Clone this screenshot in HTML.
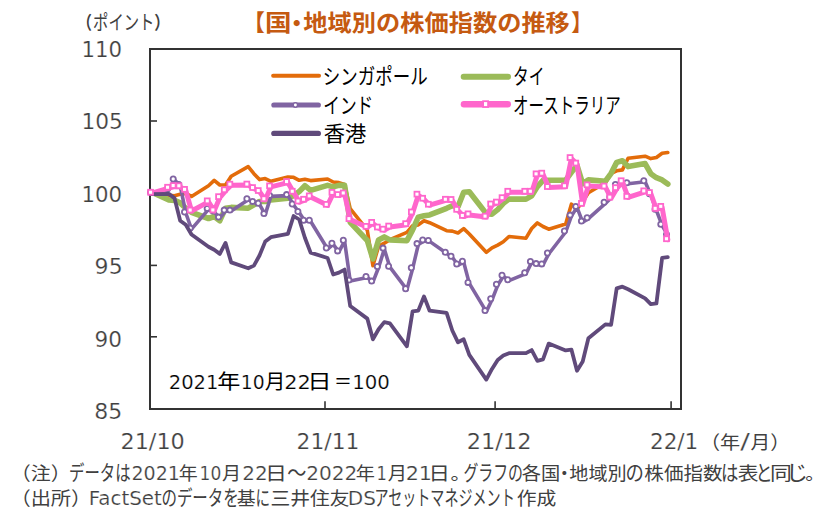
<!DOCTYPE html>
<html lang="ja"><head><meta charset="utf-8"><title>国・地域別の株価指数の推移</title>
<style>html,body{margin:0;padding:0;background:#fff;}svg{display:block;}text{white-space:pre;}</style></head><body>
<svg width="824" height="511" viewBox="0 0 824 511">
<rect x="0" y="0" width="824" height="511" fill="#ffffff"/>
<g id="axes" stroke="#333333" fill="none">
<rect x="150" y="49" width="531" height="360" stroke-width="2"/>
<line x1="150" x2="157" y1="121.0" y2="121.0" stroke-width="1.6"/>
<line x1="150" x2="157" y1="193.0" y2="193.0" stroke-width="1.6"/>
<line x1="150" x2="157" y1="265.4" y2="265.4" stroke-width="1.6"/>
<line x1="150" x2="157" y1="336.8" y2="336.8" stroke-width="1.6"/>
<line x1="325.0" x2="325.0" y1="401.3" y2="409" stroke-width="1.6"/>
<line x1="495.1" x2="495.1" y1="401.3" y2="409" stroke-width="1.6"/>
<line x1="671.1" x2="671.1" y1="401.3" y2="409" stroke-width="1.6"/>
</g>
<g id="series">
<polyline points="151.8,193.0 168.8,195.2 174.5,195.7 180.2,194.2 185.8,193.4 191.5,196.4 208.5,185.7 214.2,180.4 219.8,185.0 225.5,185.0 231.2,176.3 248.2,166.6 253.9,173.7 259.5,179.6 265.2,178.6 270.9,181.3 287.9,177.0 293.6,177.3 299.2,180.3 304.9,179.3 310.6,180.6 327.6,179.0 333.2,182.0 338.9,182.6 344.6,184.4 350.2,208.7 367.3,230.2 372.9,265.7 378.6,246.2 384.3,243.2 389.9,239.7 406.9,232.4 412.6,225.7 418.3,224.9 424.0,220.8 429.6,222.7 446.6,230.7 452.3,231.1 458.0,233.0 463.7,228.6 469.3,234.0 486.3,252.3 492.0,247.8 497.7,245.1 503.3,241.8 509.0,236.5 526.0,238.2 531.7,228.5 537.4,222.9 543.0,226.5 548.7,229.2 565.7,224.0 571.4,204.2 577.0,209.0 582.7,201.6 588.4,192.8 605.4,182.7 611.1,173.5 616.7,170.8 622.4,169.9 628.1,158.2 645.1,156.2 650.8,158.6 656.4,157.5 662.1,153.3 667.8,152.5" stroke="#E36C0A" stroke-width="3.6" fill="none" stroke-linejoin="round" stroke-linecap="round"/>
<polyline points="151.8,192.2 168.8,199.9 174.5,200.4 180.2,202.9 185.8,208.2 191.5,212.3 208.5,218.5 214.2,216.5 219.8,220.7 225.5,208.2 231.2,207.4 248.2,208.2 253.9,204.9 259.5,201.5 265.2,201.5 270.9,199.9 287.9,198.2 293.6,195.7 299.2,191.6 304.9,185.7 310.6,190.4 327.6,185.4 333.2,186.9 338.9,185.4 344.6,185.4 350.2,222.4 367.3,240.5 372.9,259.0 378.6,239.9 384.3,236.9 389.9,239.9 406.9,240.7 412.6,229.9 418.3,217.2 424.0,215.7 429.6,214.9 446.6,208.3 452.3,205.7 458.0,206.6 463.7,192.2 469.3,191.8 486.3,213.6 492.0,214.1 497.7,209.6 503.3,203.3 509.0,199.1 526.0,199.1 531.7,195.8 537.4,186.6 543.0,180.3 548.7,180.3 565.7,180.2 571.4,172.4 577.0,165.2 582.7,183.8 588.4,179.9 605.4,181.2 611.1,173.3 616.7,162.4 622.4,160.8 628.1,166.6 645.1,163.6 650.8,173.7 656.4,177.7 662.1,179.9 667.8,184.1" stroke="#9BBB59" stroke-width="5.6" fill="none" stroke-linejoin="round" stroke-linecap="round"/>
<polyline points="151.8,193.2 168.8,189.8 174.5,180.0 180.2,185.6 185.8,213.0 191.5,229.1 208.5,209.4 214.2,212.0 219.8,218.1 225.5,211.1 231.2,211.1 248.2,199.7 253.9,202.4 259.5,204.3 265.2,214.6 270.9,196.4 287.9,195.6 293.6,205.0 299.2,212.5 304.9,221.3 310.6,221.3 327.6,249.0 333.2,244.3 338.9,251.9 344.6,241.2 350.2,281.1 367.3,277.5 372.9,282.1 378.6,267.5 384.3,249.1 389.9,267.2 406.9,289.7 412.6,268.7 418.3,244.6 424.0,240.9 429.6,241.4 446.6,253.3 452.3,257.2 458.0,265.0 463.7,262.3 469.3,283.4 486.3,311.6 492.0,299.8 497.7,285.3 503.3,276.2 509.0,280.7 526.0,273.7 531.7,262.4 537.4,264.6 543.0,264.9 548.7,254.0 565.7,232.0 571.4,216.1 577.0,207.4 582.7,222.1 588.4,218.7 605.4,203.3 611.1,198.0 616.7,185.4 622.4,183.4 628.1,183.7 645.1,181.7 650.8,194.8 656.4,210.3 662.1,225.3 667.8,235.4" stroke="#8064A2" stroke-width="3.6" fill="none" stroke-linejoin="round" stroke-linecap="round"/>
<g fill="#ffffff" stroke="#8064A2" stroke-width="1.8">
<circle cx="150.5" cy="192.2" r="2.6"/>
<circle cx="167.5" cy="188.8" r="2.6"/>
<circle cx="173.2" cy="179.0" r="2.6"/>
<circle cx="178.8" cy="184.6" r="2.6"/>
<circle cx="184.5" cy="212.0" r="2.6"/>
<circle cx="190.2" cy="228.1" r="2.6"/>
<circle cx="207.2" cy="208.4" r="2.6"/>
<circle cx="212.9" cy="211.0" r="2.6"/>
<circle cx="218.5" cy="217.1" r="2.6"/>
<circle cx="224.2" cy="210.1" r="2.6"/>
<circle cx="229.9" cy="210.1" r="2.6"/>
<circle cx="246.9" cy="198.7" r="2.6"/>
<circle cx="252.6" cy="201.4" r="2.6"/>
<circle cx="258.2" cy="203.3" r="2.6"/>
<circle cx="263.9" cy="213.6" r="2.6"/>
<circle cx="269.6" cy="195.4" r="2.6"/>
<circle cx="286.6" cy="194.6" r="2.6"/>
<circle cx="292.2" cy="204.0" r="2.6"/>
<circle cx="297.9" cy="211.5" r="2.6"/>
<circle cx="303.6" cy="220.3" r="2.6"/>
<circle cx="309.3" cy="220.3" r="2.6"/>
<circle cx="326.3" cy="248.0" r="2.6"/>
<circle cx="331.9" cy="243.3" r="2.6"/>
<circle cx="337.6" cy="250.9" r="2.6"/>
<circle cx="343.3" cy="240.2" r="2.6"/>
<circle cx="348.9" cy="280.1" r="2.6"/>
<circle cx="366.0" cy="276.5" r="2.6"/>
<circle cx="371.6" cy="281.1" r="2.6"/>
<circle cx="377.3" cy="266.5" r="2.6"/>
<circle cx="383.0" cy="248.1" r="2.6"/>
<circle cx="388.6" cy="266.2" r="2.6"/>
<circle cx="405.6" cy="288.7" r="2.6"/>
<circle cx="411.3" cy="267.7" r="2.6"/>
<circle cx="417.0" cy="243.6" r="2.6"/>
<circle cx="422.7" cy="239.9" r="2.6"/>
<circle cx="428.3" cy="240.4" r="2.6"/>
<circle cx="445.3" cy="252.3" r="2.6"/>
<circle cx="451.0" cy="256.2" r="2.6"/>
<circle cx="456.7" cy="264.0" r="2.6"/>
<circle cx="462.4" cy="261.3" r="2.6"/>
<circle cx="468.0" cy="282.4" r="2.6"/>
<circle cx="485.0" cy="310.6" r="2.6"/>
<circle cx="490.7" cy="298.8" r="2.6"/>
<circle cx="496.4" cy="284.3" r="2.6"/>
<circle cx="502.0" cy="275.2" r="2.6"/>
<circle cx="507.7" cy="279.7" r="2.6"/>
<circle cx="524.7" cy="272.7" r="2.6"/>
<circle cx="530.4" cy="261.4" r="2.6"/>
<circle cx="536.1" cy="263.6" r="2.6"/>
<circle cx="541.7" cy="263.9" r="2.6"/>
<circle cx="547.4" cy="253.0" r="2.6"/>
<circle cx="564.4" cy="231.0" r="2.6"/>
<circle cx="570.1" cy="215.1" r="2.6"/>
<circle cx="575.8" cy="206.4" r="2.6"/>
<circle cx="581.4" cy="221.1" r="2.6"/>
<circle cx="587.1" cy="217.7" r="2.6"/>
<circle cx="604.1" cy="202.3" r="2.6"/>
<circle cx="609.8" cy="197.0" r="2.6"/>
<circle cx="615.4" cy="184.4" r="2.6"/>
<circle cx="621.1" cy="182.4" r="2.6"/>
<circle cx="626.8" cy="182.7" r="2.6"/>
<circle cx="643.8" cy="180.7" r="2.6"/>
<circle cx="649.5" cy="193.8" r="2.6"/>
<circle cx="655.1" cy="209.3" r="2.6"/>
<circle cx="660.8" cy="224.3" r="2.6"/>
<circle cx="666.5" cy="234.4" r="2.6"/>
</g>
<polyline points="151.8,193.2 168.8,188.2 174.5,186.6 180.2,186.8 185.8,190.3 191.5,211.0 208.5,201.9 214.2,210.9 219.8,197.6 225.5,190.8 231.2,185.2 248.2,185.1 253.9,188.6 259.5,191.6 265.2,199.7 270.9,186.9 287.9,182.6 293.6,192.2 299.2,202.1 304.9,200.2 310.6,196.9 327.6,205.3 333.2,193.4 338.9,195.5 344.6,194.0 350.2,219.6 367.3,227.3 372.9,223.4 378.6,228.1 384.3,230.2 389.9,227.0 406.9,224.7 412.6,212.9 418.3,195.2 424.0,199.2 429.6,205.2 446.6,200.2 452.3,200.4 458.0,210.4 463.7,216.5 469.3,214.9 486.3,217.1 492.0,204.9 497.7,203.0 503.3,198.6 509.0,192.3 526.0,192.3 531.7,192.3 537.4,174.9 543.0,174.2 548.7,187.5 565.7,186.7 571.4,158.6 577.0,164.0 582.7,204.3 588.4,185.9 605.4,187.1 611.1,198.1 616.7,188.7 622.4,181.8 628.1,197.4 645.1,191.9 650.8,193.5 656.4,209.3 662.1,207.4 667.8,239.7" stroke="#FF66CC" stroke-width="5.0" fill="none" stroke-linejoin="round" stroke-linecap="round"/>
<polyline points="151.8,194.2 168.8,193.9 174.5,198.1 180.2,220.7 185.8,224.7 191.5,234.5 208.5,246.8 214.2,249.8 219.8,253.9 225.5,242.9 231.2,262.4 248.2,268.3 253.9,265.6 259.5,255.5 265.2,241.6 270.9,237.2 287.9,233.8 293.6,216.0 299.2,219.5 304.9,237.7 310.6,252.6 327.6,258.0 333.2,274.5 338.9,272.6 344.6,269.6 350.2,306.0 367.3,318.6 372.9,339.3 378.6,329.2 384.3,322.1 389.9,323.3 406.9,346.3 412.6,311.3 418.3,310.6 424.0,296.4 429.6,310.7 446.6,312.9 452.3,330.5 458.0,342.3 463.7,339.3 469.3,354.9 486.3,379.6 492.0,368.9 497.7,359.9 503.3,355.5 509.0,353.2 526.0,353.2 531.7,350.1 537.4,360.8 543.0,359.4 548.7,343.6 565.7,350.4 571.4,349.6 577.0,370.7 582.7,361.5 588.4,338.3 605.4,324.4 611.1,324.8 616.7,288.3 622.4,286.7 628.1,289.3 645.1,298.4 650.8,304.2 656.4,303.4 662.1,257.9 667.8,257.2" stroke="#604A7B" stroke-width="3.8" fill="none" stroke-linejoin="round" stroke-linecap="round"/>
<g fill="#ffffff" stroke="#FF66CC" stroke-width="1.8">
<rect x="148.1" y="189.8" width="4.9" height="4.9"/>
<rect x="165.1" y="184.8" width="4.9" height="4.9"/>
<rect x="170.7" y="183.1" width="4.9" height="4.9"/>
<rect x="176.4" y="183.3" width="4.9" height="4.9"/>
<rect x="182.1" y="186.9" width="4.9" height="4.9"/>
<rect x="187.7" y="207.6" width="4.9" height="4.9"/>
<rect x="204.8" y="198.4" width="4.9" height="4.9"/>
<rect x="210.4" y="207.5" width="4.9" height="4.9"/>
<rect x="216.1" y="194.2" width="4.9" height="4.9"/>
<rect x="221.8" y="187.3" width="4.9" height="4.9"/>
<rect x="227.4" y="181.7" width="4.9" height="4.9"/>
<rect x="244.4" y="181.6" width="4.9" height="4.9"/>
<rect x="250.1" y="185.1" width="4.9" height="4.9"/>
<rect x="255.8" y="188.1" width="4.9" height="4.9"/>
<rect x="261.4" y="196.3" width="4.9" height="4.9"/>
<rect x="267.1" y="183.4" width="4.9" height="4.9"/>
<rect x="284.1" y="179.1" width="4.9" height="4.9"/>
<rect x="289.8" y="188.8" width="4.9" height="4.9"/>
<rect x="295.5" y="198.6" width="4.9" height="4.9"/>
<rect x="301.1" y="196.8" width="4.9" height="4.9"/>
<rect x="306.8" y="193.4" width="4.9" height="4.9"/>
<rect x="323.8" y="201.9" width="4.9" height="4.9"/>
<rect x="329.5" y="189.9" width="4.9" height="4.9"/>
<rect x="335.2" y="192.1" width="4.9" height="4.9"/>
<rect x="340.8" y="190.5" width="4.9" height="4.9"/>
<rect x="346.5" y="216.2" width="4.9" height="4.9"/>
<rect x="363.5" y="223.9" width="4.9" height="4.9"/>
<rect x="369.2" y="219.9" width="4.9" height="4.9"/>
<rect x="374.9" y="224.6" width="4.9" height="4.9"/>
<rect x="380.5" y="226.7" width="4.9" height="4.9"/>
<rect x="386.2" y="223.6" width="4.9" height="4.9"/>
<rect x="403.2" y="221.2" width="4.9" height="4.9"/>
<rect x="408.9" y="209.5" width="4.9" height="4.9"/>
<rect x="414.5" y="191.7" width="4.9" height="4.9"/>
<rect x="420.2" y="195.8" width="4.9" height="4.9"/>
<rect x="425.9" y="201.8" width="4.9" height="4.9"/>
<rect x="442.9" y="196.8" width="4.9" height="4.9"/>
<rect x="448.6" y="197.0" width="4.9" height="4.9"/>
<rect x="454.2" y="206.9" width="4.9" height="4.9"/>
<rect x="459.9" y="213.0" width="4.9" height="4.9"/>
<rect x="465.6" y="211.4" width="4.9" height="4.9"/>
<rect x="482.6" y="213.7" width="4.9" height="4.9"/>
<rect x="488.2" y="201.5" width="4.9" height="4.9"/>
<rect x="493.9" y="199.6" width="4.9" height="4.9"/>
<rect x="499.6" y="195.2" width="4.9" height="4.9"/>
<rect x="505.3" y="188.8" width="4.9" height="4.9"/>
<rect x="522.3" y="188.8" width="4.9" height="4.9"/>
<rect x="527.9" y="188.8" width="4.9" height="4.9"/>
<rect x="533.6" y="171.4" width="4.9" height="4.9"/>
<rect x="539.3" y="170.7" width="4.9" height="4.9"/>
<rect x="544.9" y="184.1" width="4.9" height="4.9"/>
<rect x="562.0" y="183.3" width="4.9" height="4.9"/>
<rect x="567.6" y="155.1" width="4.9" height="4.9"/>
<rect x="573.3" y="160.6" width="4.9" height="4.9"/>
<rect x="579.0" y="200.9" width="4.9" height="4.9"/>
<rect x="584.6" y="182.4" width="4.9" height="4.9"/>
<rect x="601.6" y="183.6" width="4.9" height="4.9"/>
<rect x="607.3" y="194.7" width="4.9" height="4.9"/>
<rect x="613.0" y="185.2" width="4.9" height="4.9"/>
<rect x="618.7" y="178.3" width="4.9" height="4.9"/>
<rect x="624.3" y="193.9" width="4.9" height="4.9"/>
<rect x="641.3" y="188.4" width="4.9" height="4.9"/>
<rect x="647.0" y="190.1" width="4.9" height="4.9"/>
<rect x="652.7" y="205.9" width="4.9" height="4.9"/>
<rect x="658.3" y="203.9" width="4.9" height="4.9"/>
<rect x="664.0" y="236.3" width="4.9" height="4.9"/>
</g>
</g>
<g id="legend" fill="none" stroke-linecap="round">
<line x1="273.1" x2="319.1" y1="75.8" y2="75.8" stroke="#E36C0A" stroke-width="3.9"/>
<line x1="463.7" x2="508.0" y1="76.8" y2="76.8" stroke="#9BBB59" stroke-width="6.0"/>
<line x1="273.8" x2="318.4" y1="105.0" y2="105.0" stroke="#8064A2" stroke-width="5.1"/>
<circle cx="295.4" cy="105.0" r="2.2" fill="#fff" stroke="#8064A2" stroke-width="1.5"/>
<line x1="463.9" x2="507.8" y1="104.2" y2="104.2" stroke="#FF66CC" stroke-width="6.4"/>
<rect x="483.1" y="101.2" width="5.0" height="5.8" fill="#fff" stroke="#FF66CC" stroke-width="1.8"/>
<line x1="273.9" x2="318.3" y1="133.4" y2="133.4" stroke="#604A7B" stroke-width="5.4"/>
</g>
<g id="labels">
<text x="77.15" y="29.00" font-size="18.00" fill="#404040" font-family='"Liberation Sans","Noto Sans CJK JP",sans-serif' font-weight="bold" textLength="14.64" lengthAdjust="spacingAndGlyphs">（</text>
<text x="93.08" y="30.15" font-size="20.00" fill="#404040" font-family='"Liberation Sans","Noto Sans CJK JP",sans-serif' textLength="61.35" lengthAdjust="spacingAndGlyphs">ポイント</text>
<text x="154.33" y="29.12" font-size="18.00" fill="#404040" font-family='"Liberation Sans","Noto Sans CJK JP",sans-serif' font-weight="bold" textLength="15.38" lengthAdjust="spacingAndGlyphs">）</text>
<text x="81.50" y="56.90" font-size="21.33" fill="#404040" font-family='"DejaVu Sans","Liberation Sans","Noto Sans CJK JP",sans-serif' textLength="40.59" lengthAdjust="spacingAndGlyphs" stroke="#ffffff" stroke-width="0.22">110</text>
<text x="81.50" y="129.30" font-size="21.33" fill="#404040" font-family='"DejaVu Sans","Liberation Sans","Noto Sans CJK JP",sans-serif' textLength="41.41" lengthAdjust="spacingAndGlyphs" stroke="#ffffff" stroke-width="0.22">105</text>
<text x="81.50" y="201.70" font-size="21.33" fill="#404040" font-family='"DejaVu Sans","Liberation Sans","Noto Sans CJK JP",sans-serif' textLength="40.59" lengthAdjust="spacingAndGlyphs" stroke="#ffffff" stroke-width="0.22">100</text>
<text x="94.63" y="274.10" font-size="21.33" fill="#404040" font-family='"DejaVu Sans","Liberation Sans","Noto Sans CJK JP",sans-serif' textLength="28.02" lengthAdjust="spacingAndGlyphs" stroke="#ffffff" stroke-width="0.22">95</text>
<text x="94.53" y="346.50" font-size="21.33" fill="#404040" font-family='"DejaVu Sans","Liberation Sans","Noto Sans CJK JP",sans-serif' textLength="27.41" lengthAdjust="spacingAndGlyphs" stroke="#ffffff" stroke-width="0.22">90</text>
<text x="94.28" y="418.90" font-size="21.33" fill="#404040" font-family='"DejaVu Sans","Liberation Sans","Noto Sans CJK JP",sans-serif' textLength="28.02" lengthAdjust="spacingAndGlyphs" stroke="#ffffff" stroke-width="0.22">85</text>
<text x="243.02" y="30.70" font-size="23.00" fill="#C55A11" font-family='"Liberation Sans","Noto Sans CJK JP",sans-serif' font-weight="bold" textLength="21.81" lengthAdjust="spacingAndGlyphs">【</text>
<text x="265.10" y="30.83" font-size="23.00" fill="#C55A11" font-family='"Liberation Sans","Noto Sans CJK JP",sans-serif' font-weight="bold" textLength="26.53" lengthAdjust="spacingAndGlyphs">国</text>
<text x="284.75" y="31.68" font-size="24.00" fill="#C55A11" font-family='"Liberation Sans","Noto Sans CJK JP",sans-serif' font-weight="bold">・</text>
<text x="303.38" y="30.87" font-size="23.00" fill="#C55A11" font-family='"Liberation Sans","Noto Sans CJK JP",sans-serif' font-weight="bold" textLength="266.46" lengthAdjust="spacingAndGlyphs">地域別の株価指数の推移</text>
<text x="571.35" y="30.70" font-size="23.00" fill="#C55A11" font-family='"Liberation Sans","Noto Sans CJK JP",sans-serif' font-weight="bold" textLength="21.16" lengthAdjust="spacingAndGlyphs">】</text>
<text x="322.82" y="83.98" font-size="21.50" fill="#000000" font-family='"Liberation Sans","Noto Sans CJK JP",sans-serif' textLength="104.92" lengthAdjust="spacingAndGlyphs">シンガポール</text>
<text x="513.02" y="84.13" font-size="21.50" fill="#000000" font-family='"Liberation Sans","Noto Sans CJK JP",sans-serif' textLength="31.49" lengthAdjust="spacingAndGlyphs">タイ</text>
<text x="323.20" y="112.83" font-size="21.50" fill="#000000" font-family='"Liberation Sans","Noto Sans CJK JP",sans-serif' textLength="50.07" lengthAdjust="spacingAndGlyphs">インド</text>
<text x="512.90" y="113.10" font-size="21.50" fill="#000000" font-family='"Liberation Sans","Noto Sans CJK JP",sans-serif' textLength="107.76" lengthAdjust="spacingAndGlyphs">オーストラリア</text>
<text x="323.83" y="141.45" font-size="21.00" fill="#000000" font-family='"Liberation Sans","Noto Sans CJK JP",sans-serif' textLength="42.59" lengthAdjust="spacingAndGlyphs">香港</text>
<text x="168.70" y="388.60" font-size="20.00" fill="#000000" font-family='"DejaVu Sans","Liberation Sans","Noto Sans CJK JP",sans-serif' textLength="49.83" lengthAdjust="spacingAndGlyphs" stroke="#ffffff" stroke-width="0.22">2021</text>
<text x="217.30" y="388.60" font-size="20.00" fill="#000000" font-family='"Liberation Sans","Noto Sans CJK JP",sans-serif' textLength="23.10" lengthAdjust="spacingAndGlyphs">年</text>
<text x="240.75" y="388.60" font-size="20.00" fill="#000000" font-family='"DejaVu Sans","Liberation Sans","Noto Sans CJK JP",sans-serif' textLength="23.90" lengthAdjust="spacingAndGlyphs" stroke="#ffffff" stroke-width="0.22">10</text>
<text x="264.78" y="388.60" font-size="20.00" fill="#000000" font-family='"Liberation Sans","Noto Sans CJK JP",sans-serif' textLength="20.59" lengthAdjust="spacingAndGlyphs">月</text>
<text x="284.18" y="388.60" font-size="20.00" fill="#000000" font-family='"DejaVu Sans","Liberation Sans","Noto Sans CJK JP",sans-serif' textLength="26.60" lengthAdjust="spacingAndGlyphs" stroke="#ffffff" stroke-width="0.22">22</text>
<text x="307.25" y="388.60" font-size="20.00" fill="#000000" font-family='"Liberation Sans","Noto Sans CJK JP",sans-serif' textLength="24.38" lengthAdjust="spacingAndGlyphs">日</text>
<text x="333.95" y="388.60" font-size="20.00" fill="#000000" font-family='"Liberation Sans","Noto Sans CJK JP",sans-serif' textLength="17.93" lengthAdjust="spacingAndGlyphs">＝</text>
<text x="352.22" y="388.60" font-size="20.00" fill="#000000" font-family='"DejaVu Sans","Liberation Sans","Noto Sans CJK JP",sans-serif' textLength="37.71" lengthAdjust="spacingAndGlyphs" stroke="#ffffff" stroke-width="0.22">100</text>
<text x="120.48" y="448.80" font-size="21.33" fill="#404040" font-family='"DejaVu Sans","Liberation Sans","Noto Sans CJK JP",sans-serif' textLength="64.33" lengthAdjust="spacingAndGlyphs" stroke="#ffffff" stroke-width="0.22">21/10</text>
<text x="296.55" y="448.80" font-size="21.33" fill="#404040" font-family='"DejaVu Sans","Liberation Sans","Noto Sans CJK JP",sans-serif' textLength="62.83" lengthAdjust="spacingAndGlyphs" stroke="#ffffff" stroke-width="0.22">21/11</text>
<text x="466.65" y="448.80" font-size="21.33" fill="#404040" font-family='"DejaVu Sans","Liberation Sans","Noto Sans CJK JP",sans-serif' textLength="64.87" lengthAdjust="spacingAndGlyphs" stroke="#ffffff" stroke-width="0.22">21/12</text>
<text x="649.95" y="448.80" font-size="21.33" fill="#404040" font-family='"DejaVu Sans","Liberation Sans","Noto Sans CJK JP",sans-serif' textLength="48.41" lengthAdjust="spacingAndGlyphs" stroke="#ffffff" stroke-width="0.22">22/1</text>
<text x="699.92" y="449.20" font-size="18.67" fill="#404040" font-family='"Liberation Sans","Noto Sans CJK JP",sans-serif' textLength="40.25" lengthAdjust="spacingAndGlyphs">（年</text>
<text x="740.15" y="449.40" font-size="22.00" fill="#404040" font-family='"DejaVu Sans","Liberation Sans","Noto Sans CJK JP",sans-serif' textLength="9.64" lengthAdjust="spacingAndGlyphs" stroke="#ffffff" stroke-width="0.22">/</text>
<text x="750.48" y="449.07" font-size="18.67" fill="#404040" font-family='"Liberation Sans","Noto Sans CJK JP",sans-serif' textLength="39.37" lengthAdjust="spacingAndGlyphs">月）</text>
<text x="10.65" y="480.00" font-size="18.67" fill="#404040" font-family='"Liberation Sans","Noto Sans CJK JP",sans-serif' textLength="59.99" lengthAdjust="spacingAndGlyphs">（注）</text>
<text x="69.05" y="480.00" font-size="21.00" fill="#404040" font-family='"Liberation Sans","Noto Sans CJK JP",sans-serif' textLength="61.57" lengthAdjust="spacingAndGlyphs">データは</text>
<text x="131.43" y="480.00" font-size="20.00" fill="#404040" font-family='"DejaVu Sans","Liberation Sans","Noto Sans CJK JP",sans-serif' textLength="48.50" lengthAdjust="spacingAndGlyphs" stroke="#ffffff" stroke-width="0.22">2021</text>
<text x="178.65" y="480.00" font-size="18.67" fill="#404040" font-family='"Liberation Sans","Noto Sans CJK JP",sans-serif' textLength="18.95" lengthAdjust="spacingAndGlyphs">年</text>
<text x="199.62" y="480.00" font-size="20.00" fill="#404040" font-family='"DejaVu Sans","Liberation Sans","Noto Sans CJK JP",sans-serif' textLength="21.73" lengthAdjust="spacingAndGlyphs" stroke="#ffffff" stroke-width="0.22">10</text>
<text x="222.07" y="480.00" font-size="18.67" fill="#404040" font-family='"Liberation Sans","Noto Sans CJK JP",sans-serif' textLength="19.02" lengthAdjust="spacingAndGlyphs">月</text>
<text x="242.17" y="480.00" font-size="20.00" fill="#404040" font-family='"DejaVu Sans","Liberation Sans","Noto Sans CJK JP",sans-serif' textLength="25.45" lengthAdjust="spacingAndGlyphs" stroke="#ffffff" stroke-width="0.22">22</text>
<text x="265.00" y="480.00" font-size="18.67" fill="#404040" font-family='"Liberation Sans","Noto Sans CJK JP",sans-serif' textLength="21.98" lengthAdjust="spacingAndGlyphs">日</text>
<text x="287.30" y="480.00" font-size="21.00" fill="#404040" font-family='"Liberation Sans","Noto Sans CJK JP",sans-serif' textLength="19.14" lengthAdjust="spacingAndGlyphs">～</text>
<text x="306.15" y="480.00" font-size="20.00" fill="#404040" font-family='"DejaVu Sans","Liberation Sans","Noto Sans CJK JP",sans-serif' textLength="51.17" lengthAdjust="spacingAndGlyphs" stroke="#ffffff" stroke-width="0.22">2022</text>
<text x="355.82" y="480.00" font-size="18.67" fill="#404040" font-family='"Liberation Sans","Noto Sans CJK JP",sans-serif' textLength="19.14" lengthAdjust="spacingAndGlyphs">年</text>
<text x="376.43" y="480.00" font-size="20.00" fill="#404040" font-family='"DejaVu Sans","Liberation Sans","Noto Sans CJK JP",sans-serif' textLength="10.36" lengthAdjust="spacingAndGlyphs" stroke="#ffffff" stroke-width="0.22">1</text>
<text x="387.68" y="480.00" font-size="18.67" fill="#404040" font-family='"Liberation Sans","Noto Sans CJK JP",sans-serif' textLength="19.19" lengthAdjust="spacingAndGlyphs">月</text>
<text x="405.68" y="480.00" font-size="20.00" fill="#404040" font-family='"DejaVu Sans","Liberation Sans","Noto Sans CJK JP",sans-serif' textLength="26.37" lengthAdjust="spacingAndGlyphs" stroke="#ffffff" stroke-width="0.22">21</text>
<text x="428.55" y="480.00" font-size="18.67" fill="#404040" font-family='"Liberation Sans","Noto Sans CJK JP",sans-serif' textLength="21.42" lengthAdjust="spacingAndGlyphs">日</text>
<text x="450.55" y="480.00" font-size="18.67" fill="#404040" font-family='"Liberation Sans","Noto Sans CJK JP",sans-serif' textLength="20.26" lengthAdjust="spacingAndGlyphs">。</text>
<text x="463.42" y="480.00" font-size="21.00" fill="#404040" font-family='"Liberation Sans","Noto Sans CJK JP",sans-serif' textLength="59.54" lengthAdjust="spacingAndGlyphs">グラフの</text>
<text x="521.87" y="480.00" font-size="18.67" fill="#404040" font-family='"Liberation Sans","Noto Sans CJK JP",sans-serif' textLength="38.49" lengthAdjust="spacingAndGlyphs">各国</text>
<text x="555.05" y="480.00" font-size="18.67" fill="#404040" font-family='"Liberation Sans","Noto Sans CJK JP",sans-serif'>・</text>
<text x="569.38" y="480.00" font-size="18.67" fill="#404040" font-family='"Liberation Sans","Noto Sans CJK JP",sans-serif' textLength="57.35" lengthAdjust="spacingAndGlyphs">地域別</text>
<text x="625.38" y="480.00" font-size="21.00" fill="#404040" font-family='"Liberation Sans","Noto Sans CJK JP",sans-serif' textLength="18.37" lengthAdjust="spacingAndGlyphs">の</text>
<text x="644.37" y="480.00" font-size="18.67" fill="#404040" font-family='"Liberation Sans","Noto Sans CJK JP",sans-serif' textLength="78.07" lengthAdjust="spacingAndGlyphs">株価指数</text>
<text x="720.90" y="480.00" font-size="21.00" fill="#404040" font-family='"Liberation Sans","Noto Sans CJK JP",sans-serif' textLength="17.40" lengthAdjust="spacingAndGlyphs">は</text>
<text x="737.85" y="480.00" font-size="18.67" fill="#404040" font-family='"Liberation Sans","Noto Sans CJK JP",sans-serif' textLength="20.74" lengthAdjust="spacingAndGlyphs">表</text>
<text x="755.50" y="480.00" font-size="21.00" fill="#404040" font-family='"Liberation Sans","Noto Sans CJK JP",sans-serif' textLength="17.13" lengthAdjust="spacingAndGlyphs">と</text>
<text x="769.92" y="480.00" font-size="18.67" fill="#404040" font-family='"Liberation Sans","Noto Sans CJK JP",sans-serif' textLength="21.85" lengthAdjust="spacingAndGlyphs">同</text>
<text x="786.05" y="480.00" font-size="21.00" fill="#404040" font-family='"Liberation Sans","Noto Sans CJK JP",sans-serif' textLength="21.98" lengthAdjust="spacingAndGlyphs">じ</text>
<text x="805.25" y="480.00" font-size="18.67" fill="#404040" font-family='"Liberation Sans","Noto Sans CJK JP",sans-serif' textLength="19.64" lengthAdjust="spacingAndGlyphs">。</text>
<text x="10.40" y="504.50" font-size="18.67" fill="#404040" font-family='"Liberation Sans","Noto Sans CJK JP",sans-serif' textLength="80.96" lengthAdjust="spacingAndGlyphs">（出所）</text>
<text x="88.70" y="504.50" font-size="20.00" fill="#404040" font-family='"DejaVu Sans","Liberation Sans","Noto Sans CJK JP",sans-serif' textLength="73.10" lengthAdjust="spacingAndGlyphs" stroke="#ffffff" stroke-width="0.22">FactSet</text>
<text x="161.43" y="504.50" font-size="21.00" fill="#404040" font-family='"Liberation Sans","Noto Sans CJK JP",sans-serif' textLength="77.29" lengthAdjust="spacingAndGlyphs">のデータを</text>
<text x="236.82" y="504.50" font-size="18.67" fill="#404040" font-family='"Liberation Sans","Noto Sans CJK JP",sans-serif' textLength="18.87" lengthAdjust="spacingAndGlyphs">基</text>
<text x="255.55" y="504.50" font-size="21.00" fill="#404040" font-family='"Liberation Sans","Noto Sans CJK JP",sans-serif' textLength="14.53" lengthAdjust="spacingAndGlyphs">に</text>
<text x="270.57" y="504.50" font-size="18.67" fill="#404040" font-family='"Liberation Sans","Noto Sans CJK JP",sans-serif' textLength="78.92" lengthAdjust="spacingAndGlyphs">三井住友</text>
<text x="347.80" y="504.50" font-size="20.00" fill="#404040" font-family='"DejaVu Sans","Liberation Sans","Noto Sans CJK JP",sans-serif' textLength="28.15" lengthAdjust="spacingAndGlyphs" stroke="#ffffff" stroke-width="0.22">DS</text>
<text x="374.38" y="504.50" font-size="21.00" fill="#404040" font-family='"Liberation Sans","Noto Sans CJK JP",sans-serif' textLength="140.36" lengthAdjust="spacingAndGlyphs">アセットマネジメント</text>
<text x="516.75" y="504.50" font-size="18.67" fill="#404040" font-family='"Liberation Sans","Noto Sans CJK JP",sans-serif' textLength="39.56" lengthAdjust="spacingAndGlyphs">作成</text>
</g>
</svg></body></html>
